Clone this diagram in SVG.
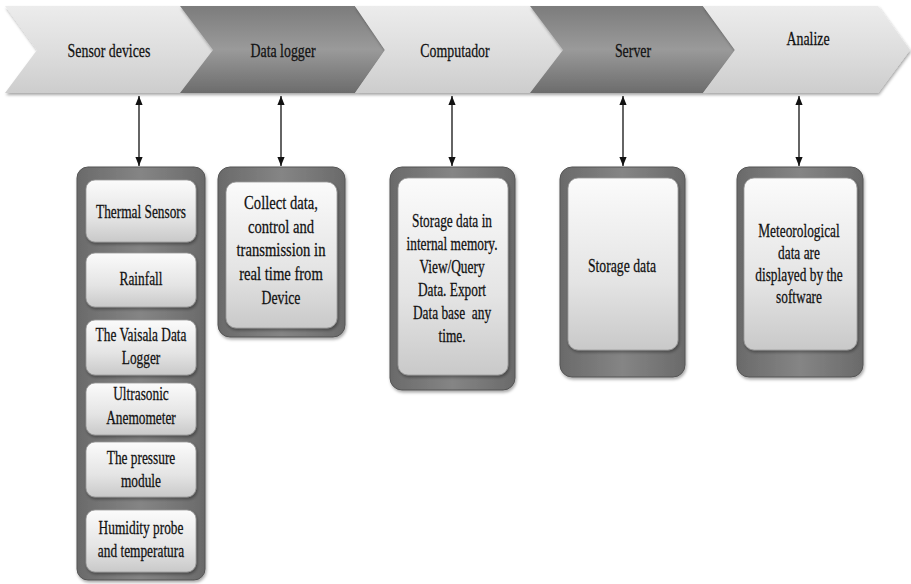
<svg xmlns="http://www.w3.org/2000/svg" width="911" height="584" viewBox="0 0 911 584">
<defs>
  <linearGradient id="gLight" x1="0" y1="0" x2="0" y2="1">
    <stop offset="0" stop-color="#ececec"/>
    <stop offset="0.5" stop-color="#dedede"/>
    <stop offset="1" stop-color="#cdcdcd"/>
  </linearGradient>
  <linearGradient id="gDark" x1="0" y1="0" x2="0" y2="1">
    <stop offset="0" stop-color="#7c7c7c"/>
    <stop offset="0.5" stop-color="#9a9a9a"/>
    <stop offset="1" stop-color="#6c6c6c"/>
  </linearGradient>
  <linearGradient id="gOuter" x1="0" y1="0" x2="1" y2="0">
    <stop offset="0" stop-color="#6a6a6a"/>
    <stop offset="0.5" stop-color="#858585"/>
    <stop offset="1" stop-color="#6a6a6a"/>
  </linearGradient>
  <linearGradient id="gInner" x1="0" y1="0" x2="0" y2="1">
    <stop offset="0" stop-color="#fbfbfb"/>
    <stop offset="0.6" stop-color="#e4e4e4"/>
    <stop offset="1" stop-color="#c9c9c9"/>
  </linearGradient>
  <filter id="sh" x="-20%" y="-20%" width="140%" height="140%">
    <feDropShadow dx="1" dy="2" stdDeviation="1.5" flood-color="#000" flood-opacity="0.35"/>
  </filter>
  <marker id="ah" viewBox="0 0 10 10" refX="10" refY="5" markerWidth="9" markerHeight="9" orient="auto-start-reverse" markerUnits="userSpaceOnUse">
    <path d="M0,1 L10,5 L0,9 Z" fill="#111"/>
  </marker>
  <style>
    .light{fill:url(#gLight);filter:url(#sh);}
    .dark{fill:url(#gDark);filter:url(#sh);}
    .outer{fill:url(#gOuter);stroke:#555;stroke-width:1;filter:url(#sh);}
    .inner{fill:url(#gInner);stroke:#9a9a9a;stroke-width:0.8;filter:url(#sh);}
    text{font-family:"Liberation Serif","Times New Roman",serif;fill:#111;stroke:#111;stroke-width:0.25;text-anchor:middle;}
    .h{font-size:18.5px;}
    .b{font-size:17.8px;}
    .c{stroke:#111;stroke-width:1.3;fill:none;marker-start:url(#ah);marker-end:url(#ah);}
  </style>
</defs>
<rect width="911" height="584" fill="#fff"/>

<g id="chevron-sensor">
  <path class="light" d="M5,6 L180,6 L213,50 L180,93 L5,93 L37,50 Z"/>
  <text class="h" transform="translate(109,0) scale(0.75,1)" x="0" y="57">Sensor devices</text>
</g>
<g id="chevron-datalogger">
  <path class="dark" d="M180,6 L355,6 L385,50 L355,93 L180,93 L213,50 Z"/>
  <text class="h" transform="translate(283,0) scale(0.75,1)" x="0" y="57">Data logger</text>
</g>
<g id="chevron-computador">
  <path class="light" d="M355,6 L530,6 L563,50 L530,93 L355,93 L385,50 Z"/>
  <text class="h" transform="translate(455,0) scale(0.75,1)" x="0" y="57">Computador</text>
</g>
<g id="chevron-server">
  <path class="dark" d="M530,6 L703,6 L735,50 L703,93 L530,93 L563,50 Z"/>
  <text class="h" transform="translate(633,0) scale(0.75,1)" x="0" y="57">Server</text>
</g>
<g id="chevron-analize">
  <path class="light" d="M703,6 L878,6 L910,50 L878,93 L703,93 L735,50 Z"/>
  <text class="h" transform="translate(808,0) scale(0.75,1)" x="0" y="45">Analize</text>
</g>

<g id="connectors">
  <line class="c" x1="139" y1="96" x2="139" y2="166"/>
  <line class="c" x1="281" y1="96" x2="281" y2="166"/>
  <line class="c" x1="452" y1="96" x2="452" y2="166"/>
  <line class="c" x1="623" y1="96" x2="623" y2="166"/>
  <line class="c" x1="799" y1="96" x2="799" y2="166"/>
</g>

<g id="sensor-devices">
  <rect class="outer" x="77" y="167" width="128" height="413" rx="11"/>
  <g id="thermal-sensors">
    <rect class="inner" x="86" y="180" width="110" height="62" rx="9"/>
    <text class="b" transform="translate(141,0) scale(0.75,1)" x="0" y="218">Thermal Sensors</text>
  </g>
  <g id="rainfall">
    <rect class="inner" x="86" y="253" width="110" height="54" rx="9"/>
    <text class="b" transform="translate(141,0) scale(0.75,1)" x="0" y="285">Rainfall</text>
  </g>
  <g id="vaisala">
    <rect class="inner" x="86" y="320" width="110" height="55" rx="9"/>
    <text class="b" transform="translate(141,0) scale(0.75,1)" x="0" y="341">The Vaisala Data</text>
    <text class="b" transform="translate(141,0) scale(0.75,1)" x="0" y="364">Logger</text>
  </g>
  <g id="ultrasonic">
    <rect class="inner" x="86" y="383" width="110" height="52" rx="9"/>
    <text class="b" transform="translate(141,0) scale(0.75,1)" x="0" y="400">Ultrasonic</text>
    <text class="b" transform="translate(141,0) scale(0.75,1)" x="0" y="424">Anemometer</text>
  </g>
  <g id="pressure">
    <rect class="inner" x="86" y="442" width="110" height="55" rx="9"/>
    <text class="b" transform="translate(141,0) scale(0.75,1)" x="0" y="464">The pressure</text>
    <text class="b" transform="translate(141,0) scale(0.75,1)" x="0" y="487">module</text>
  </g>
  <g id="humidity">
    <rect class="inner" x="86" y="510" width="110" height="62" rx="9"/>
    <text class="b" transform="translate(141,0) scale(0.75,1)" x="0" y="534">Humidity probe</text>
    <text class="b" transform="translate(141,0) scale(0.75,1)" x="0" y="557">and temperatura</text>
  </g>
</g>

<g id="data-logger">
  <rect class="outer" x="218" y="167" width="127" height="170" rx="12"/>
  <rect class="inner" x="226" y="182" width="111" height="146" rx="10"/>
  <g style="font-size:19.5px">
    <text transform="translate(281,0) scale(0.75,1)" x="0" y="209">Collect data,</text>
    <text transform="translate(281,0) scale(0.75,1)" x="0" y="233">control and</text>
    <text transform="translate(281,0) scale(0.75,1)" x="0" y="256">transmission in</text>
    <text transform="translate(281,0) scale(0.75,1)" x="0" y="280">real time from</text>
    <text transform="translate(281,0) scale(0.75,1)" x="0" y="304" style="font-size:18.3px">Device</text>
  </g>
</g>

<g id="computador">
  <rect class="outer" x="390" y="167" width="125" height="223" rx="12"/>
  <rect class="inner" x="398" y="178" width="110" height="197" rx="10"/>
  <text class="b" transform="translate(452,0) scale(0.75,1)" x="0" y="227">Storage data in</text>
  <text class="b" transform="translate(452,0) scale(0.75,1)" x="0" y="250">internal memory.</text>
  <text class="b" transform="translate(452,0) scale(0.75,1)" x="0" y="273">View/Query</text>
  <text class="b" transform="translate(452,0) scale(0.75,1)" x="0" y="296">Data. Export</text>
  <text class="b" transform="translate(452,0) scale(0.75,1)" x="0" y="319" xml:space="preserve">Data base  any</text>
  <text class="b" transform="translate(452,0) scale(0.75,1)" x="0" y="342">time.</text>
</g>

<g id="server">
  <rect class="outer" x="560" y="167" width="125" height="210" rx="12"/>
  <rect class="inner" x="568" y="178" width="110" height="172" rx="10"/>
  <text transform="translate(622,0) scale(0.75,1)" x="0" y="272" style="font-size:18.3px">Storage data</text>
</g>

<g id="analize">
  <rect class="outer" x="737" y="167" width="126" height="210" rx="12"/>
  <rect class="inner" x="744" y="178" width="113" height="172" rx="10"/>
  <text class="b" transform="translate(799,0) scale(0.75,1)" x="0" y="237">Meteorological</text>
  <text class="b" transform="translate(799,0) scale(0.75,1)" x="0" y="259">data are</text>
  <text class="b" transform="translate(799,0) scale(0.75,1)" x="0" y="281">displayed by the</text>
  <text class="b" transform="translate(799,0) scale(0.75,1)" x="0" y="303">software</text>
</g>
</svg>
